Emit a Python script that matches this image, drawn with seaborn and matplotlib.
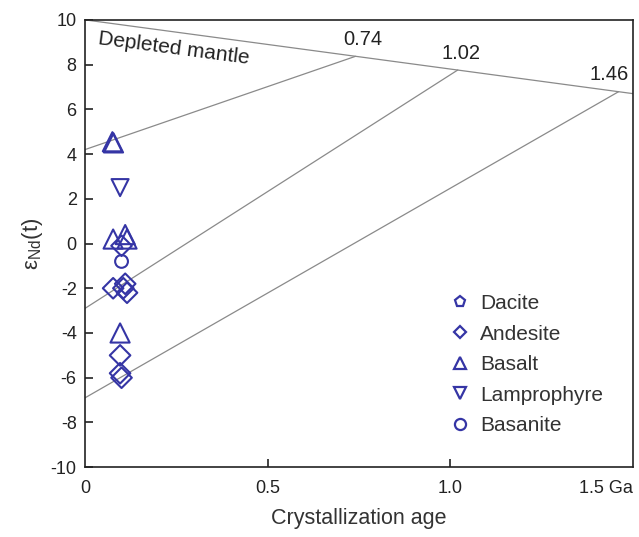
import matplotlib
matplotlib.use("Agg")
import matplotlib.pyplot as plt
from matplotlib.lines import Line2D
import seaborn as sns
import pandas as pd

# data
ages = [0.075, 0.078, 0.077, 0.11, 0.115, 0.096,
        0.096,
        0.1, 0.077, 0.11, 0.115, 0.105, 0.096, 0.096, 0.1,
        0.1]
eps = [4.55, 4.5, 0.2, 0.4, 0.2, -4.0,
       2.5,
       -0.1, -2.0, -1.8, -2.2, -2.0, -5.0, -5.8, -6.0,
       -0.8]
rock = ["Basalt"] * 6 + ["Lamprophyre"] + ["Andesite"] * 8 + ["Basanite"]

legend_names = ["Dacite", "Andesite", "Basalt", "Lamprophyre", "Basanite"]
legend_markers = ["p", "D", "^", "v", "o"]

dm_x = [0.0, 1.5]
dm_y = [10.0, 6.7]
model_ages = [0.74, 1.02, 1.46]
model_start = [4.2, -2.9, -6.9]
model_end = [8.37, 7.76, 6.79]
label_dx = [0.02, 0.01, -0.025]

x_ticks = [0, 0.5, 1.0, 1.5]
x_ticklabels = ["0", "0.5", "1.0", "1.5 Ga"]
y_ticks = list(range(-10, 11, 2))

sns.set_style("ticks")
plt.rcParams['font.family'] = ['Liberation Sans', 'DejaVu Sans']
plt.rcParams['axes.unicode_minus'] = False

fig = plt.figure(figsize=(6.39, 5.37), dpi=100)
ax = fig.add_axes([0.133, 0.130, 0.858, 0.833])

col = "#3535a5"
lc = "#8a8a8a"

ax.plot(dm_x, dm_y, color=lc, lw=0.9, zorder=1)
for a, s, e, dx in zip(model_ages, model_start, model_end, label_dx):
    ax.plot([0, a], [s, e], color=lc, lw=0.9, zorder=1)
    ax.text(a + dx, e + 0.75, f"{a:.2f}", ha="center",
            va="center", fontsize=14.5, color="#222222")

ax.text(0.04, 9.6, "Depleted mantle", rotation=-7.5, fontsize=15,
        ha="left", va="top", color="#222222", rotation_mode="anchor")

df = pd.DataFrame({"age": ages, "eps": eps, "rock": rock})
mk = dict(zip(legend_names, legend_markers))
sz = {"Basalt": 190, "Lamprophyre": 150, "Andesite": 110, "Basanite": 85}
sns.scatterplot(data=df, x="age", y="eps", style="rock", markers=mk,
                size="rock", sizes=sz,
                facecolor="none", edgecolor=col, linewidth=1.5,
                legend=False, ax=ax, zorder=3)

handles = [Line2D([], [], marker=m, ls="none", markersize=8 if m != "D" else 6.5,
                  markerfacecolor="none", markeredgecolor=col, markeredgewidth=1.6)
           for m in legend_markers]
leg = ax.legend(handles, legend_names, loc="upper left",
                bbox_to_anchor=(0.643, 0.41), frameon=False, fontsize=15,
                handletextpad=0.35, labelspacing=0.55, handlelength=1.2,
                borderpad=0)
for t in leg.get_texts():
    t.set_color("#333333")

ax.set_xlim(0, 1.5)
ax.set_ylim(-10, 10)
ax.set_xticks(x_ticks)
ax.set_xticklabels(x_ticklabels)
ax.set_yticks(y_ticks)
ax.tick_params(axis="both", direction="in", length=6, width=1.2,
               labelsize=13, colors="#222222", pad=6)
ax.tick_params(axis="x", pad=9)
xt = ax.get_xaxis().get_major_ticks()
for i in (0, 3):
    xt[i].tick1line.set_visible(False)
xt[3].label1.set_horizontalalignment("right")
for sp in ax.spines.values():
    sp.set_linewidth(1.2)
    sp.set_color("#222222")
    sp.set_visible(True)

ax.set_xlabel("Crystallization age", fontsize=15.5, color="#333333", labelpad=8)
ax.set_ylabel(r"$\mathregular{\epsilon_{Nd}(t)}$", fontsize=16, color="#333333")

fig.savefig("out.png", dpi=100)
